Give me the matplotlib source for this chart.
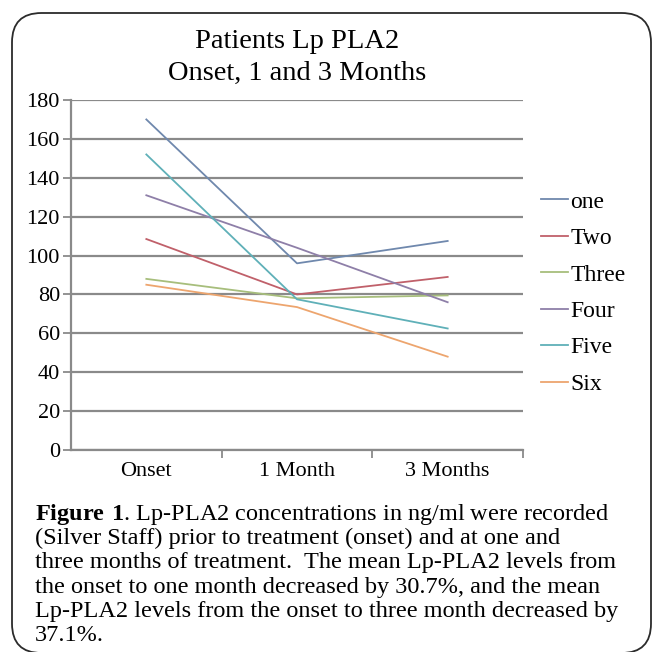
import matplotlib
matplotlib.use("Agg")
import matplotlib.pyplot as plt
from matplotlib.patches import FancyBboxPatch

plt.rcParams['font.family'] = ['Liberation Serif', 'DejaVu Serif']
plt.rcParams['mathtext.fontset'] = 'custom'
plt.rcParams['mathtext.rm'] = 'Liberation Serif'
plt.rcParams['mathtext.bf'] = 'Liberation Serif:bold'

categories = ["Onset", "1 Month", "3 Months"]
series_names = ["one", "Two", "Three", "Four", "Five", "Six"]
one = [170, 96, 107.5]
two = [108.5, 80, 89]
three = [88, 78, 79.5]
four = [131, 104, 76]
five = [152, 77.5, 62.5]
six = [85, 73.5, 48]
series_values = [one, two, three, four, five, six]
colors = ["#6f88ad", "#c0606a", "#a7be7c", "#8e7fa8", "#5fb0b8", "#eda56e"]
yticks = [0, 20, 40, 60, 80, 100, 120, 140, 160, 180]

W, H = 654, 652
fig = plt.figure(figsize=(W / 100, H / 100), dpi=100)

# rounded frame
frame = FancyBboxPatch((12 / W, 1 - 653 / H), (651 - 12) / W, (653 - 13) / H,
                       boxstyle="round,pad=0,rounding_size=0.045",
                       transform=fig.transFigure, fill=False,
                       edgecolor="#2b2b2b", linewidth=1.3, clip_on=False)
fig.patches.append(frame)

ax = fig.add_axes([71 / W, 1 - 450 / H, (523 - 71) / W, 350 / H])
x = list(range(len(categories)))
for name, vals, c in zip(series_names, series_values, colors):
    ax.plot(x, vals, color=c, linewidth=1.3, label=name, zorder=3)

ax.set_xlim(-0.5, 2.5)
ax.set_ylim(0, 180)
ax.set_yticks(yticks)
ax.set_yticklabels([str(v) for v in yticks], fontsize=16)
ax.yaxis.grid(True, color="#8a8a8a", linewidth=1.6)
ax.set_axisbelow(True)
ax.tick_params(axis='y', length=6, width=1.3, color="#8a8a8a", pad=2)

ax.set_xticks([0.5, 1.5, 2.5])
ax.set_xticklabels([])
ax.set_xticks(x, minor=True)
ax.set_xticklabels(categories, minor=True, fontsize=16)
ax.tick_params(axis='x', which='major', length=6, width=1.3, color="#8a8a8a")
ax.tick_params(axis='x', which='minor', length=0, pad=9)

for s in ['top', 'right']:
    ax.spines[s].set_visible(False)
ax.spines['left'].set_color("#8a8a8a")
ax.spines['left'].set_linewidth(1.6)
ax.spines['bottom'].set_color("#8a8a8a")
ax.spines['bottom'].set_linewidth(1.6)

leg = ax.legend(loc='center left', bbox_to_anchor=(541 / W, 1 - 293 / H),
                bbox_transform=fig.transFigure, frameon=False, fontsize=17,
                handlelength=1.15, handletextpad=0.1, labelspacing=0.63,
                borderaxespad=0, borderpad=0)

fig.text(297 / W, 1 - 41 / H, "Patients Lp PLA2", ha='center', va='center', fontsize=20.5)
fig.text(297 / W, 1 - 73 / H, "Onset, 1 and 3 Months", ha='center', va='center', fontsize=20.5)

caption = [
    r"$\mathbf{Figure\ 1}$. Lp-PLA2 concentrations in ng/ml were recorded",
    "(Silver Staff) prior to treatment (onset) and at one and",
    "three months of treatment.  The mean Lp-PLA2 levels from",
    "the onset to one month decreased by 30.7%, and the mean",
    "Lp-PLA2 levels from the onset to three month decreased by",
    "37.1%.",
]
for i, line in enumerate(caption):
    fig.text(35 / W, 1 - (514.5 + 24.2 * i) / H, line, ha='left', va='center', fontsize=17.5)

fig.savefig("out.png", dpi=100)
